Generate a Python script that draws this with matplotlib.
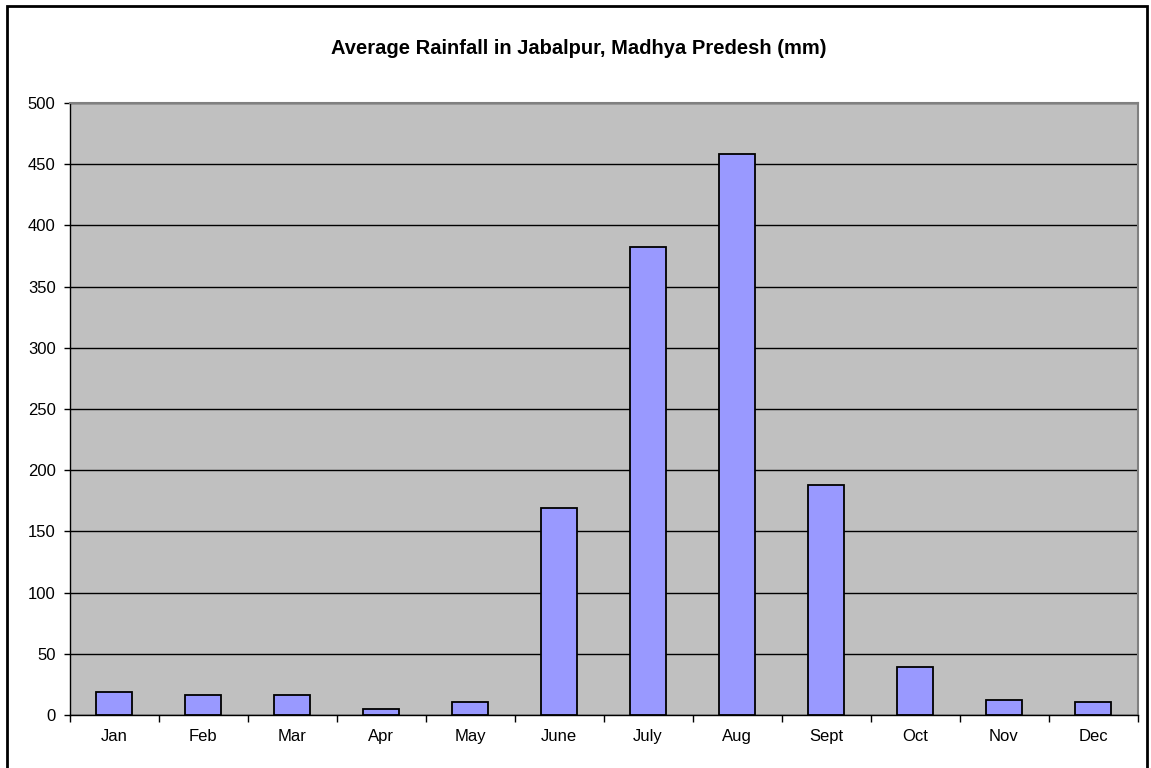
import matplotlib
matplotlib.use("Agg")
import matplotlib.pyplot as plt
from matplotlib.patches import Rectangle

months = ["Jan", "Feb", "Mar", "Apr", "May", "June", "July", "Aug", "Sept", "Oct", "Nov", "Dec"]
rainfall = [19, 16, 16, 5, 11, 169, 382, 458, 188, 39, 12, 11]
yticks = [0, 50, 100, 150, 200, 250, 300, 350, 400, 450, 500]
title = "Average Rainfall in Jabalpur, Madhya Predesh (mm)"

plt.rcParams['font.family'] = ['Liberation Sans', 'DejaVu Sans']

W, H = 1151, 768
fig = plt.figure(figsize=(W / 100, H / 100), dpi=100)
fig.patch.set_facecolor("white")

# outer chart border
fig.add_artist(Rectangle((6.5 / W, -0.01), (1147 - 6.5) / W, 1 - 5.5 / H + 0.01,
                         transform=fig.transFigure, fill=False,
                         edgecolor="black", linewidth=2))

left, right, top, bottom = 69.5, 1137.5, 103, 715
ax = fig.add_axes([left / W, 1 - bottom / H, (right - left) / W, (bottom - top) / H])
ax.set_facecolor("#C0C0C0")

x = list(range(len(months)))
ax.bar(x, rainfall, width=0.4, color="#9999FF", edgecolor="black", linewidth=1.3, zorder=3)

ax.set_xlim(-0.5, len(months) - 0.5)
ax.set_ylim(0, 500)
ax.set_yticks(yticks)
ax.set_yticklabels([str(v) for v in yticks], fontsize=12)
ax.yaxis.grid(True, color="black", linewidth=1, zorder=1)
ax.set_axisbelow(True)

ax.set_xticks(x)
ax.set_xticklabels(months, fontsize=12)
ax.tick_params(axis="x", length=0, pad=10)
ax.set_xticks([i - 0.5 for i in range(len(months) + 1)], minor=True)
ax.tick_params(axis="x", which="minor", length=5, width=1, color="black", direction="out")
ax.tick_params(axis="y", length=4, width=1, direction="out", pad=6)

for s in ["left", "bottom"]:
    ax.spines[s].set_color("black")
    ax.spines[s].set_linewidth(1)
for s in ["top", "right"]:
    ax.spines[s].set_color("#808080")
    ax.spines[s].set_linewidth(1.5)

fig.text(579 / W, 1 - 53.5 / H, title, ha="center", va="baseline",
         fontsize=14.5, fontweight="bold")

fig.savefig("out.png", dpi=100)
